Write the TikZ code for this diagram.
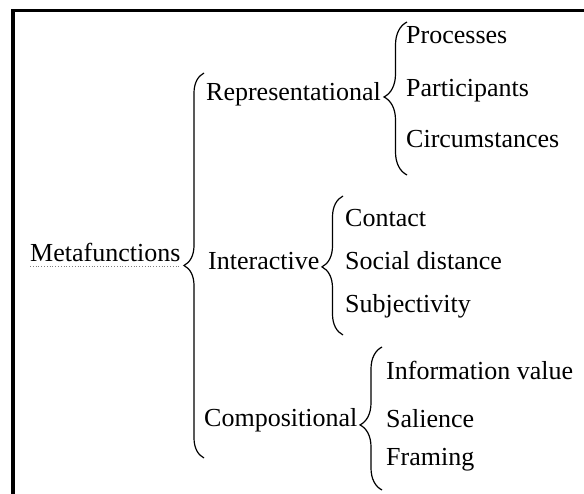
\documentclass[tikz,border=0pt]{standalone}
\usepackage{fontspec}
\setmainfont{Liberation Serif}
\usetikzlibrary{decorations.pathreplacing}
\tikzset{
  lbl/.style={anchor=base west, inner sep=0pt, font=\fontsize{26}{30}\selectfont},
  bracebar/.style={decorate, line width=1.2pt, decoration={brace, amplitude=#1}},
  frameline/.style={line width=3.8pt, black}
}
\begin{document}
\begin{tikzpicture}[x=1pt, y=-1pt]
\useasboundingbox (0,0) rectangle (584,494);
\fill[white] (0,0) rectangle (584,494);
% frame (only left and top edges visible)
\coordinate (f1) at (13,520);
\coordinate (f2) at (13,10.5);
\coordinate (f3) at (620,10.5);
\draw[frameline] (f1) -- (f2) -- (f3);
% texts
\node[lbl] (meta) at (30,262) {Metafunctions};
\draw[gray, line width=0.8pt, dotted] ([yshift=-4pt]meta.base west) -- ([yshift=-4pt]meta.base east);
\node[lbl] (rep) at (206,101) {Representational};
\node[lbl] (inter) at (208,270) {Interactive};
\node[lbl] (comp) at (204,427) {Compositional};
\node[lbl] (proc) at (406,44) {Processes};
\node[lbl] (part) at (406,97) {Participants};
\node[lbl] (circ) at (406,148) {Circumstances};
\node[lbl] (cont) at (345,227) {Contact};
\node[lbl] (soc) at (345,270) {Social distance};
\node[lbl] (subj) at (345,313) {Subjectivity};
\node[lbl] (info) at (386,380) {Information value};
\node[lbl] (sal) at (386,428) {Salience};
\node[lbl] (fram) at (386,465) {Framing};
% braces
\coordinate (b1s) at (204,458); \coordinate (b1e) at (204,73);
\draw[bracebar=20pt, decoration={aspect=0.5}] (b1s) -- (b1e);
\coordinate (b2s) at (407,175); \coordinate (b2e) at (407,22);
\draw[bracebar=23pt, decoration={aspect=0.51}] (b2s) -- (b2e);
\coordinate (b3s) at (343,335); \coordinate (b3e) at (343,196);
\draw[bracebar=21pt, decoration={aspect=0.49}] (b3s) -- (b3e);
\coordinate (b4s) at (382,490); \coordinate (b4e) at (382,347);
\draw[bracebar=22pt, decoration={aspect=0.455}] (b4s) -- (b4e);
\end{tikzpicture}
\end{document}
